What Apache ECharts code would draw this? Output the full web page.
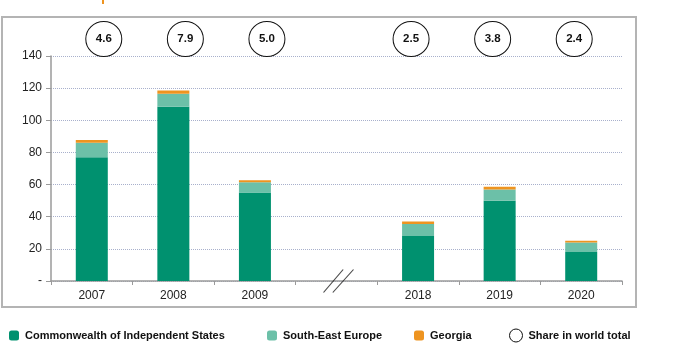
<!DOCTYPE html>
<html>
<head>
<meta charset="utf-8">
<script src="https://cdn.jsdelivr.net/npm/echarts@6/dist/echarts.min.js"></script>
<style>
html,body{margin:0;padding:0;background:#fff;}
#chart{width:687px;height:361px;}
</style>
</head>
<body>
<div id="chart"></div>
<script>
var categories = ['2007', '2008', '2009', '', '2018', '2019', '2020'];
var cisValues = [77, 108.5, 55, null, 28, 50, 18];
var seeValues = [9, 8, 6.5, null, 7.5, 7, 6];
var georgiaValues = [1.7, 2, 1.2, null, 1.5, 1.6, 1];
var shareValues = [4.6, 7.9, 5.0, null, 2.5, 3.8, 2.4];
var yTicks = [0, 20, 40, 60, 80, 100, 120, 140];

var chart = echarts.init(document.getElementById('chart'));
var sans = "'Liberation Sans', Arial, sans-serif";
var CIRCLE_Y = 150.6;

var shareData = [];
categories.forEach(function (c, i) {
  if (shareValues[i] == null) return;
  var off = i < 3 ? 12 : -7;
  shareData.push({ value: [c, CIRCLE_Y, shareValues[i]], symbolOffset: [off, 0] });
});

var legendBase = {
  top: 330,
  padding: 0,
  itemWidth: 10,
  itemHeight: 10,
  itemGap: 0,
  textStyle: { fontFamily: sans, fontWeight: 'bold', fontSize: 11, color: '#111', padding: [0, 0, 0, 1] },
  selectedMode: false
};

chart.setOption({
  animation: false,
  backgroundColor: '#fff',
  grid: { left: 51, right: 65, top: 56, bottom: 80 },
  xAxis: {
    type: 'category',
    data: categories,
    axisLine: { lineStyle: { color: '#9a9a9a', width: 1.5 } },
    axisTick: { show: true, length: 4, lineStyle: { color: '#9a9a9a' } },
    axisLabel: { fontFamily: sans, fontSize: 12, color: '#222', margin: 9 },
    splitLine: { show: false }
  },
  yAxis: {
    type: 'value',
    min: yTicks[0],
    max: yTicks[yTicks.length - 1],
    interval: 20,
    axisLine: { show: true, lineStyle: { color: '#9a9a9a', width: 1.5 } },
    axisTick: { show: true, length: 5, lineStyle: { color: '#9a9a9a' } },
    axisLabel: {
      fontFamily: sans, fontSize: 12, color: '#222', margin: 9,
      formatter: function (v) { return v === 0 ? '-' : String(v); }
    },
    splitLine: { show: true, lineStyle: { color: '#a8b0cc', type: [1, 1], width: 1 } }
  },
  legend: [
    Object.assign({}, legendBase, { left: 9, data: [{ name: 'Commonwealth of Independent States', icon: 'roundRect' }] }),
    Object.assign({}, legendBase, { left: 267, data: [{ name: 'South-East Europe', icon: 'roundRect' }] }),
    Object.assign({}, legendBase, { left: 414, data: [{ name: 'Georgia', icon: 'roundRect' }] }),
    Object.assign({}, legendBase, {
      left: 509, top: 328.5, itemWidth: 13, itemHeight: 13,
      data: [{ name: 'Share in world total', icon: 'circle', itemStyle: { color: '#fff', borderColor: '#111', borderWidth: 1 } }]
    })
  ],
  series: [
    { name: 'Commonwealth of Independent States', type: 'bar', stack: 's', barWidth: 32, data: cisValues, itemStyle: { color: '#00916f' } },
    { name: 'South-East Europe', type: 'bar', stack: 's', barWidth: 32, data: seeValues, itemStyle: { color: '#6cc0a8' } },
    { name: 'Georgia', type: 'bar', stack: 's', barWidth: 32, data: georgiaValues, itemStyle: { color: '#ee9420' } },
    {
      name: 'Share in world total', type: 'scatter', clip: false, symbol: 'circle', symbolSize: [36, 35],
      itemStyle: { color: '#fff', borderColor: '#111', borderWidth: 1, opacity: 1 },
      label: {
        show: true, position: 'inside', fontFamily: sans, fontWeight: 'bold', fontSize: 11.5, color: '#111',
        formatter: function (p) { return p.value[2].toFixed(1); }
      },
      encode: { x: 0, y: 1 },
      data: shareData,
      z: 5
    },
    {
      name: 'break', type: 'scatter', clip: false, silent: true,
      symbol: 'path://M0,22L19,0M9,22L29,0', symbolSize: [30, 23], symbolOffset: [2, 0],
      itemStyle: { color: 'none', borderColor: '#222', borderWidth: 1 },
      data: [[categories[3], 0]],
      z: 6
    }
  ],
  graphic: [
    { type: 'rect', shape: { x: 2, y: 17, width: 634, height: 290 }, style: { fill: 'none', stroke: '#b4b4b4', lineWidth: 2 }, z: -1 },
    { type: 'rect', shape: { x: 102, y: 0, width: 2, height: 4 }, style: { fill: '#ee9420' } }
  ]
});
</script>
</body>
</html>
